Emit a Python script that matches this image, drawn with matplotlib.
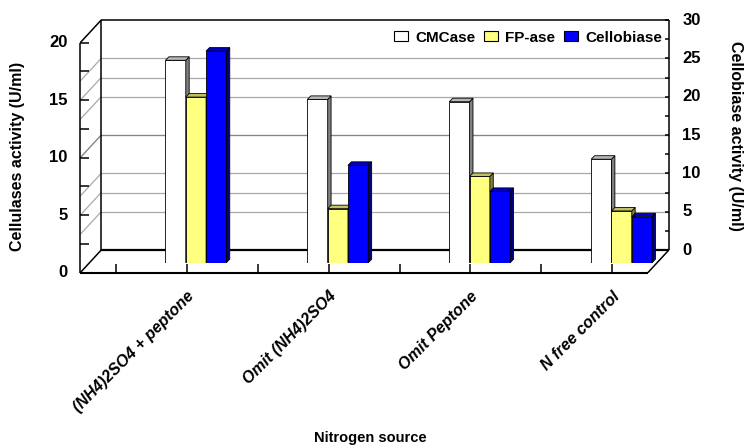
import numpy as np
import matplotlib
matplotlib.use("Agg")
import matplotlib.pyplot as plt
from matplotlib.patches import Polygon, Patch
from matplotlib.transforms import ScaledTranslation

plt.rcParams["font.family"] = ["Liberation Sans", "DejaVu Sans"]
plt.rcParams["font.weight"] = "bold"

categories = ["(NH4)2SO4 + peptone", "Omit (NH4)2SO4", "Omit Peptone", "N free control"]
cmcase = [17.6, 14.2, 14.0, 9.0]       # U/ml, left axis
fpase = [14.4, 4.7, 7.5, 4.5]          # U/ml, left axis
cellobiase = [27.6, 12.7, 9.3, 6.0]    # U/ml, right axis

left_ticks = [0, 5, 10, 15, 20]
right_ticks = [0, 5, 10, 15, 20, 25, 30]

W, H = 745, 448
fig = plt.figure(figsize=(W / 100, H / 100), dpi=100)

# axes = plane of the bar fronts; floor and walls are drawn offset from it
ax = fig.add_axes([89.5 / W, (H - 262.7) / H, 567.6 / W, 230 / H])
ax.set_xlim(-0.75, 3.25)
ax.set_ylim(0, 20)
ax.axis("off")
ax2 = ax.twinx()
ax2.set_ylim(0, 30)
ax2.axis("off")


def px(axis, dx, dy):
    # pixel step -> data step for the given axes
    p0 = axis.transData.transform((0, 0))
    q = axis.transData.inverted().transform(p0 + np.array([dx, dy]))
    return q[0], q[1]


def shift(dx, dy):
    return ScaledTranslation(dx / 100, dy / 100, fig.dpi_scale_trans)


fdx, fdy = px(ax, -9.25, -10)   # front edge of the floor
bdx, bdy = px(ax, 11.75, 12.7)  # back wall
x0, x1 = ax.get_xlim()
top = ax.get_ylim()[1]
r = ax.get_ylim()[1] / ax2.get_ylim()[1]


def line(xa, ya, xb, yb, **kw):
    ax.plot([xa, xb], [ya, yb], clip_on=False, solid_capstyle="butt", **kw)


# gridlines on back and side wall (left scale and right scale)
levels = [5, 10, 15] + [v * r for v in [5, 10, 15, 20, 25]]
for y in levels:
    line(x0 + bdx, y + bdy, x1 + bdx, y + bdy, color="#707070", lw=0.9, alpha=0.6, zorder=1)
    line(x0 + fdx, y + fdy, x0 + bdx, y + bdy, color="#707070", lw=0.9, alpha=0.6, zorder=1)

edge = dict(color="black", lw=1.1, zorder=2)
line(x0 + fdx, fdy, x0 + fdx, top + fdy, **edge)
line(x0 + fdx, top + fdy, x0 + bdx, top + bdy, **edge)
line(x0 + bdx, top + bdy, x1 + bdx, top + bdy, **edge)
line(x0 + bdx, bdy, x0 + bdx, top + bdy, **edge)
line(x1 + bdx, bdy, x1 + bdx, top + bdy, **edge)
line(x0 + fdx, fdy, x1 + fdx, fdy, color="black", lw=1.5, zorder=2)
line(x0 + fdx, fdy, x0 + bdx, bdy, **edge)
line(x1 + fdx, fdy, x1 + bdx, bdy, **edge)
line(x0 + bdx, bdy, x1 + bdx, bdy, color="black", lw=1.6, zorder=2)

# tick marks
tx = px(ax, 9, 0)[0]
for v in np.arange(0, 20.1, 2.5):
    line(x0 + fdx, v + fdy, x0 + fdx + tx, v + fdy, **edge)
tx_r = px(ax, 4, 0)[0]
for v in np.arange(0, 30.1, 2.5):
    line(x1 + bdx - tx_r, v * r + bdy, x1 + bdx, v * r + bdy, **edge)
ty = px(ax, 0, 9)[1]
for xt in np.arange(-0.5, 3.01, 0.5):
    line(xt + fdx, fdy, xt + fdx, fdy + ty, **edge)

# 3-D columns
bar_w = 0.143
series = [
    (ax, cmcase, -bar_w, "#FFFFFF", "#B8B8B8", "#808080"),
    (ax, fpase, 0.0, "#FFFF80", "#C0C060", "#808040"),
    (ax2, cellobiase, bar_w, "#0000FF", "#0000C0", "#000080"),
]
for axis, vals, off, face, topc, sidec in series:
    ddx, ddy = px(axis, 3.4, 3.5)
    for i, h in enumerate(vals):
        xc = i + off
        axis.bar([xc], [h], bar_w, color=face, edgecolor="black", linewidth=0.6, zorder=3)
        xl, xr = xc - bar_w / 2, xc + bar_w / 2
        axis.add_patch(Polygon([(xr, 0), (xr + ddx, ddy), (xr + ddx, h + ddy), (xr, h)],
                               closed=True, fc=sidec, ec="black", lw=0.6, zorder=3))
        axis.add_patch(Polygon([(xl, h), (xr, h), (xr + ddx, h + ddy), (xl + ddx, h + ddy)],
                               closed=True, fc=topc, ec="black", lw=0.6, zorder=3))

# axis numbers
for v in left_ticks:
    ax.text(x0 + fdx, v + fdy, str(v), transform=ax.transData + shift(-12.7, 0),
            ha="right", va="center", fontsize=12, fontweight="bold")
for v in right_ticks:
    ax.text(x1 + bdx, v * r + bdy, str(v), transform=ax.transData + shift(13.4, 0),
            ha="left", va="center", fontsize=12, fontweight="bold")

# category names
for i, name in enumerate(categories):
    ax.text(i, 0, name, transform=ax.transData + shift(1, -26), rotation=45,
            ha="right", va="top", fontsize=11.5, fontweight="bold", style="italic")

fig.text(18 / W, 1 - 156 / H, "Cellulases activity (U/ml)", rotation=90,
         ha="center", va="center", fontsize=11.5, fontweight="bold")
fig.text(735 / W, 1 - 136 / H, "Cellobiase activity (U/ml)", rotation=270,
         ha="center", va="center", fontsize=11.5, fontweight="bold")
fig.text(370 / W, 1 - 438 / H, "Nitrogen source", ha="center", va="center",
         fontsize=10.5, fontweight="bold")

handles = [Patch(fc=c, ec="black", lw=0.8) for c in ["#FFFFFF", "#FFFF80", "#0000FF"]]
fig.legend(handles, ["CMCase", "FP-ase", "Cellobiase"], loc="center right",
           bbox_to_anchor=(662 / W, 1 - 37.5 / H), ncol=3, frameon=False,
           prop={"size": 11, "weight": "bold"}, handlelength=0.95, handleheight=0.65,
           handletextpad=0.46, columnspacing=0.54, borderpad=0, borderaxespad=0)

fig.savefig("out.png", dpi=100)
